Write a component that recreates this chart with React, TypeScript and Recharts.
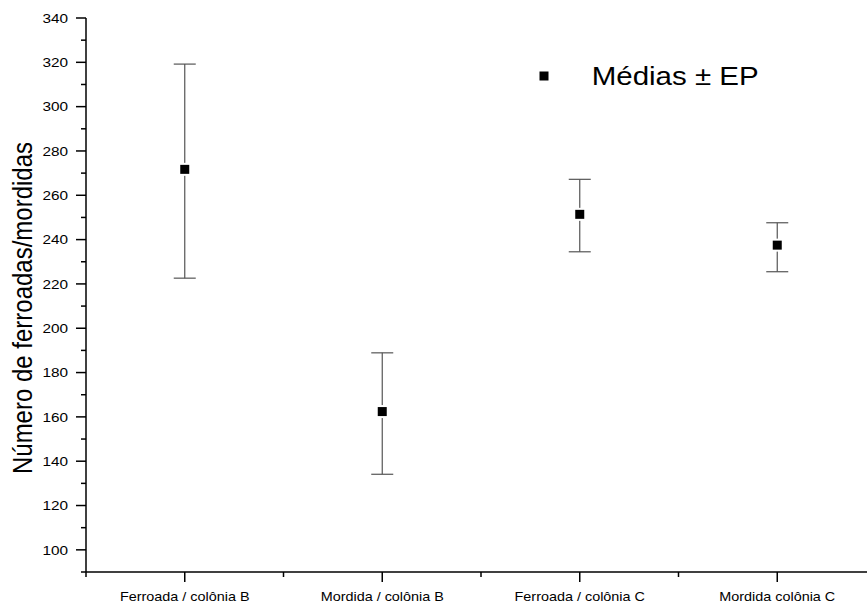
import React from 'react';
import { ScatterChart, Scatter, XAxis, YAxis, ErrorBar, Legend } from 'recharts';

const categories = ['Ferroada / colônia B', 'Mordida / colônia B', 'Ferroada / colônia C', 'Mordida colônia C'];
const means = [271.7, 162.4, 251.4, 237.5];
const upperBounds = [319.2, 188.9, 267.2, 247.6];
const lowerBounds = [222.6, 134.1, 234.5, 225.5];
const yTicks = [90, 100, 110, 120, 130, 140, 150, 160, 170, 180, 190, 200, 210, 220, 230, 240, 250, 260, 270, 280, 290, 300, 310, 320, 330, 340];
const xTicks = [0.5, 1, 1.5, 2, 2.5, 3, 3.5, 4, 4.5];
const legendLabel = 'Médias ± EP';
const yTitle = 'Número de ferroadas/mordidas';

const data = categories.map((c, i) => ({
  x: i + 1,
  y: means[i],
  err: [means[i] - lowerBounds[i], upperBounds[i] - means[i]],
}));

const FONT = '"Liberation Sans", Arial, Helvetica, sans-serif';

const YTick = (props: any) => {
  const { x, y, payload } = props;
  const v = payload.value as number;
  const major = v % 20 === 0;
  return (
    <g>
      <line x1={x - (major ? 10 : 5)} x2={x} y1={y} y2={y} stroke="#000" strokeWidth={1.5} />
      {major && (
        <text
          transform={`translate(${x - 18},${y}) scale(1.18,1)`}
          textAnchor="end"
          dy="0.36em"
          fontSize={13}
          fontFamily={FONT}
          fill="#000"
        >
          {v}
        </text>
      )}
    </g>
  );
};

const XTick = (props: any) => {
  const { x, y, payload } = props;
  const v = payload.value as number;
  const major = Number.isInteger(v);
  return (
    <g>
      <line x1={x} x2={x} y1={y} y2={y + (major ? 10 : 5)} stroke="#000" strokeWidth={1.5} />
      {major && categories[v - 1] && (
        <text
          transform={`translate(${x},${y + 29}) scale(1.2,1)`}
          textAnchor="middle"
          fontSize={12}
          fontFamily={FONT}
          fill="#000"
        >
          {categories[v - 1]}
        </text>
      )}
    </g>
  );
};

const Marker = (props: any) => {
  const { cx, cy } = props;
  return (
    <g>
      <rect x={cx - 6.5} y={cy - 6.5} width={13} height={13} fill="#fff" />
      <rect x={cx - 4.5} y={cy - 4.5} width={9} height={9} fill="#000" />
    </g>
  );
};

const YTitle = (props: any) => {
  const vb = props.viewBox || { x: 0, y: 18, width: 86, height: 554 };
  const cy = vb.y + vb.height / 2 + 13;
  return (
    <text
      transform={`translate(32,${cy}) scale(1.15,1) rotate(-90)`}
      textAnchor="middle"
      fontSize={24}
      fontFamily={FONT}
      fill="#000"
    >
      {yTitle}
    </text>
  );
};

const LegendContent = () => (
  <svg width={260} height={45}>
    <rect x={9.5} y={16.5} width={9} height={9} fill="#000" />
    <text transform="translate(61.7,30) scale(1.18,1)" fontSize={25} fontFamily={FONT} fill="#000">
      {legendLabel}
    </text>
  </svg>
);

export default function App() {
  return (
    <div style={{ position: 'absolute', left: 0, top: 0, width: 867, height: 604, overflow: 'hidden', background: '#fff' }}>
      <ScatterChart width={880} height={604} margin={{ top: 18, right: 4, bottom: 2, left: 0 }}>
        <XAxis
          type="number"
          dataKey="x"
          domain={[0.5, 4.5]}
          ticks={xTicks}
          interval={0}
          height={30}
          tickSize={0}
          tickMargin={0}
          tickLine={false}
          tick={<XTick />}
          axisLine={{ stroke: '#000', strokeWidth: 1.5 }}
          allowDataOverflow
        />
        <YAxis
          type="number"
          dataKey="y"
          domain={[90, 340]}
          ticks={yTicks}
          interval={0}
          width={86}
          tickSize={0}
          tickMargin={0}
          tickLine={false}
          tick={<YTick />}
          axisLine={{ stroke: '#000', strokeWidth: 1.5 }}
          label={<YTitle />}
          allowDataOverflow
        />
        <Legend
          layout="horizontal"
          verticalAlign="middle"
          align="center"
          content={<LegendContent />}
          wrapperStyle={{ left: 530, top: 55, width: 260, height: 45 }}
        />
        <Scatter data={data} shape={<Marker />} isAnimationActive={false} fill="#000">
          <ErrorBar dataKey="err" direction="y" width={11} stroke="#555" strokeWidth={1.2} isAnimationActive={false} />
        </Scatter>
      </ScatterChart>
    </div>
  );
}
